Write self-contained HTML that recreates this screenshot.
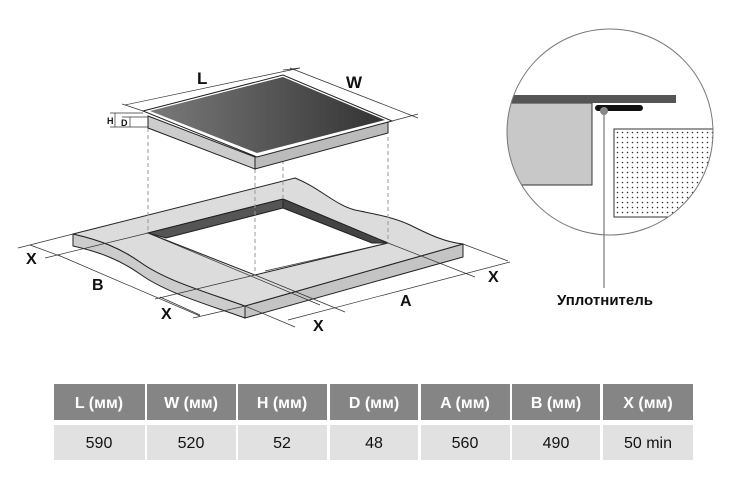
<!DOCTYPE html>
<html><head><meta charset="utf-8"><style>
html,body{margin:0;padding:0;background:#fff;width:736px;height:478px;overflow:hidden}
svg{display:block}
.t{font-family:"Liberation Sans",sans-serif;font-weight:bold}
</style></head><body>
<svg width="736" height="478" viewBox="0 0 736 478" xmlns="http://www.w3.org/2000/svg">
<defs>
<linearGradient id="g" x1="0" y1="0" x2="1" y2="0"><stop offset="0" stop-color="#7a7a7a"/><stop offset="1" stop-color="#333"/></linearGradient>
<pattern id="dots" width="5" height="5" patternUnits="userSpaceOnUse"><rect width="5" height="5" fill="#fff"/><circle cx="2.5" cy="2.5" r="0.8" fill="#333"/></pattern>
<clipPath id="cc"><circle cx="610" cy="132" r="103"/></clipPath>
</defs>
<g stroke="#222" stroke-width="1">
<path d="M73,234 C100,240 120,248 140,262 C165,280 200,290 245,306 L245,318 C200,302 165,292 140,274 C120,260 100,252 73,246 Z" fill="#ccc"/>
<path d="M463,244 L463,257 L245,318 L245,306 Z" fill="#c4c4c4"/>
<path d="M73,234 L295,178 C320,188 335,205 355,210 C380,215 395,218 410,225 C430,235 445,242 463,244 L245,306 C200,290 165,280 140,262 C120,248 100,240 73,234 Z" fill="#dcdcdc"/>
<path d="M148,233 L283,199 L388,243 L255,275 Z" fill="#fff"/>
<path d="M148,233 L283,199 L283,208 L166,238 Z" fill="#555"/>
<path d="M283,199 L388,243 L372,243 L283,208 Z" fill="#444"/>
</g>
<g stroke="#333" stroke-width="0.7" fill="none">
<line x1="73" y1="234" x2="18" y2="248"/>
<line x1="148" y1="233" x2="45" y2="258"/>
<line x1="30" y1="245" x2="60" y2="256"/>
<line x1="58" y1="255" x2="200" y2="316"/>
<line x1="148" y1="233" x2="320" y2="305"/>
<line x1="255" y1="275" x2="155" y2="299"/>
<line x1="245" y1="306" x2="193" y2="318"/>
<line x1="160" y1="297" x2="200" y2="315"/>
<line x1="255" y1="275" x2="345" y2="312"/>
<line x1="245" y1="306" x2="295" y2="327"/>
<line x1="288" y1="320" x2="510" y2="262"/>
<line x1="388" y1="243" x2="475" y2="277"/>
<line x1="463" y1="244" x2="508" y2="261"/>
<line x1="388" y1="243" x2="265" y2="271"/>
</g>
<g stroke="#999" stroke-width="1" stroke-dasharray="4,3">
<line x1="148" y1="128" x2="148" y2="233"/>
<line x1="255" y1="169" x2="255" y2="275"/>
<line x1="283" y1="160" x2="283" y2="199"/>
<line x1="388" y1="137" x2="388" y2="243"/>
</g>
<g stroke="#222" stroke-width="1">
<path d="M148,116 L148,128 L255,169 L255,157 Z" fill="#ccc"/>
<path d="M255,157 L255,169 L388,133 L388,121 Z" fill="#bbb"/>
<path d="M143,111 L283,75 L392,121 L257,157 Z" fill="#fff"/>
<path d="M150,111 L283,77 L385,120 L257,153 Z" fill="url(#g)" stroke="none"/>
</g>
<g stroke="#333" stroke-width="0.7" fill="none">
<line x1="125" y1="105" x2="300" y2="68"/>
<line x1="122" y1="104" x2="143" y2="111"/>
<line x1="283" y1="70" x2="300" y2="68"/>
<line x1="290" y1="68" x2="418" y2="118"/>
<line x1="392" y1="121" x2="418" y2="114"/>
<line x1="110" y1="113" x2="143" y2="113"/>
<line x1="110" y1="127" x2="148" y2="127"/>
<line x1="122" y1="117" x2="148" y2="117"/>
<line x1="115" y1="113" x2="115" y2="127"/>
<line x1="130" y1="117" x2="130" y2="127"/>
</g>
<g class="t" fill="#111">
<text x="197" y="84" font-size="17">L</text>
<text x="346" y="88" font-size="17">W</text>
<text x="107" y="124" font-size="9">H</text>
<text x="121" y="126" font-size="9">D</text>
<text x="26" y="264" font-size="16">X</text>
<text x="92" y="290" font-size="16">B</text>
<text x="161" y="319" font-size="16">X</text>
<text x="313" y="331" font-size="16">X</text>
<text x="400" y="306" font-size="16">A</text>
<text x="488" y="282" font-size="16">X</text>
</g>
<circle cx="610" cy="132" r="103" fill="#fff"/>
<g clip-path="url(#cc)">
<rect x="500" y="103" width="92" height="82" fill="#c8c8c8" stroke="#333" stroke-width="1"/>
<rect x="500" y="95" width="176" height="8" fill="#555"/>
<rect x="614" y="129" width="110" height="88" fill="url(#dots)" stroke="#333" stroke-width="1"/>
</g>
<rect x="595" y="105" width="48" height="6" rx="3" fill="#111"/>
<circle cx="610" cy="132" r="103" fill="none" stroke="#777" stroke-width="1"/>
<line x1="604" y1="111" x2="604" y2="288" stroke="#777" stroke-width="1.2"/>
<circle cx="604" cy="111" r="4" fill="#888"/>
<text x="605" y="305" class="t" font-size="15" text-anchor="middle" fill="#111">Уплотнитель</text>
<g font-family="Liberation Sans,sans-serif" font-size="16" text-anchor="middle">
<g fill="#858585">
<rect x="54" y="384" width="91" height="36"/><rect x="147" y="384" width="89" height="36"/><rect x="238" y="384" width="89" height="36"/><rect x="330" y="384" width="88" height="36"/><rect x="421" y="384" width="89" height="36"/><rect x="512" y="384" width="88" height="36"/><rect x="603" y="384" width="90" height="36"/>
</g>
<g fill="#e1e1e1">
<rect x="54" y="425" width="91" height="35"/><rect x="147" y="425" width="89" height="35"/><rect x="238" y="425" width="89" height="35"/><rect x="330" y="425" width="88" height="35"/><rect x="421" y="425" width="89" height="35"/><rect x="512" y="425" width="88" height="35"/><rect x="603" y="425" width="90" height="35"/>
</g>
<g fill="#fff" font-weight="bold">
<text x="99" y="408">L (мм)</text><text x="191" y="408">W (мм)</text><text x="282" y="408">H (мм)</text><text x="374" y="408">D (мм)</text><text x="465" y="408">A (мм)</text><text x="556" y="408">B (мм)</text><text x="648" y="408">X (мм)</text>
</g>
<g fill="#111">
<text x="99" y="448">590</text><text x="191" y="448">520</text><text x="282" y="448">52</text><text x="374" y="448">48</text><text x="465" y="448">560</text><text x="556" y="448">490</text><text x="648" y="448">50 min</text>
</g>
</g>
</svg>
</body></html>
